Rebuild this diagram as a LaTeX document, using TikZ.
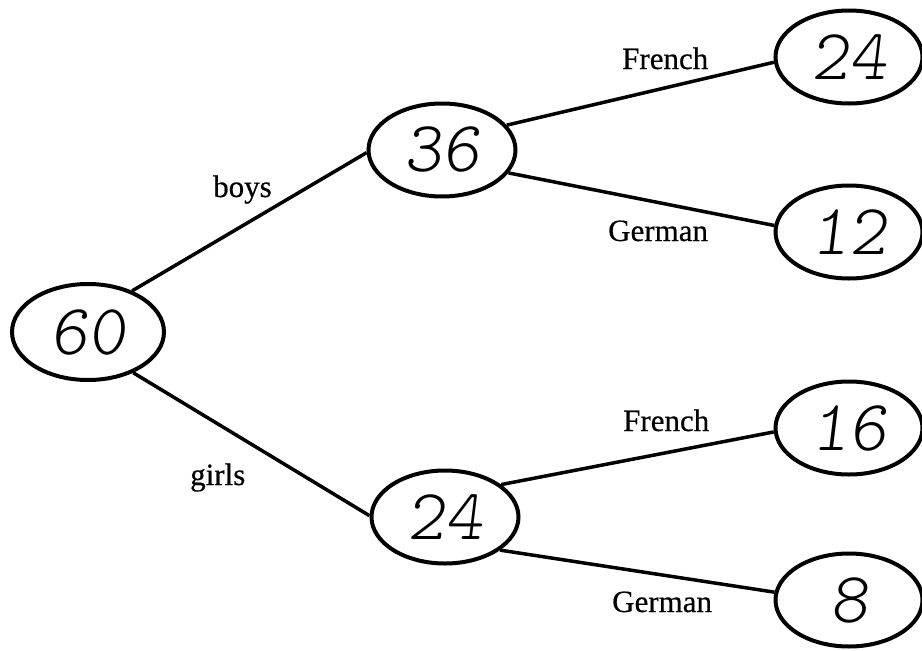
\documentclass[tikz,border=0pt]{standalone}
\usepackage{fontspec}
\setmainfont{Liberation Serif}
\newfontfamily\lblfont{Liberation Serif}[FakeBold=0.5]
\newfontfamily\handfont{lmmonolt10-regular.otf}[FakeSlant=0.12]
\usetikzlibrary{shapes.geometric}
\tikzset{
  numnode/.style={draw, ellipse, line width=4pt, minimum width=147pt, minimum height=93pt,
    inner sep=0pt, font=\handfont\fontsize{72}{72}\selectfont},
  branch/.style={line width=3.5pt},
  lbl/.style={anchor=base west, inner sep=0pt, font=\lblfont\fontsize{31}{31}\selectfont}
}
\begin{document}
\begin{tikzpicture}[x=1pt,y=-1pt]
\useasboundingbox (0,0) rectangle (922,651);
\fill[white] (0,0) rectangle (922,651);
\node[numnode, minimum width=152pt, minimum height=96pt] (root) at (88,332) {60};
\node[numnode] (b36) at (442,150) {36};
\node[numnode] (g24) at (445,517) {24};
\node[numnode] (r24) at (849,57) {24};
\node[numnode] (r12) at (849,232) {12};
\node[numnode] (r16) at (849,428) {16};
\node[numnode] (r8) at (849,600) {8};
\draw[branch] (root.43) -- (b36.182);
\draw[branch] (root.-42) -- (g24.179);
\draw[branch] (b36.21) -- (r24.184);
\draw[branch] (b36.-19) -- (r12.175);
\draw[branch] (g24.30) -- (r16.183);
\draw[branch] (g24.-31) -- (r8.174);
\node[lbl] (lboys) at (213,197) {boys};
\node[lbl] (lgirls) at (190,485) {girls};
\node[lbl] (lf1) at (622,69) {French};
\node[lbl] (lg1) at (608,241) {German};
\node[lbl] (lf2) at (623,431) {French};
\node[lbl] (lg2) at (612,612) {German};
\end{tikzpicture}
\end{document}
